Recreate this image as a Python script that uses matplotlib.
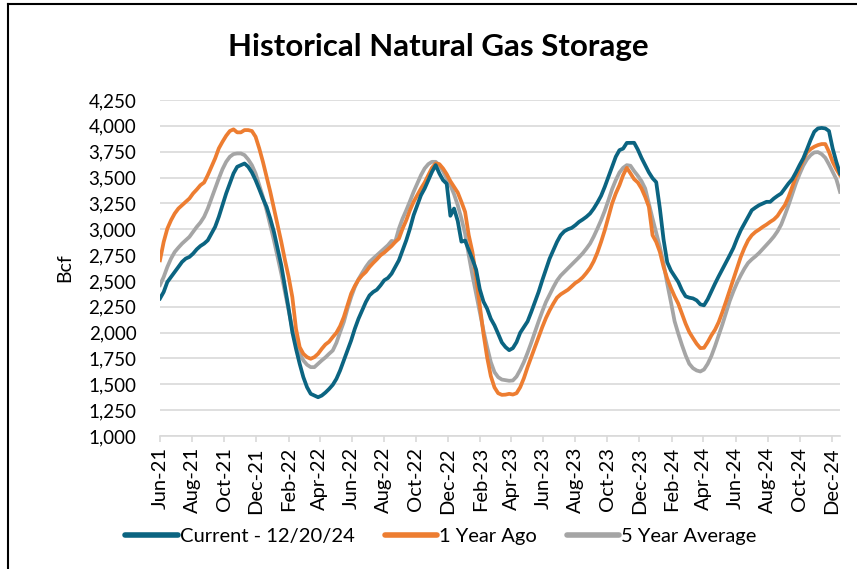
import matplotlib
matplotlib.use("Agg")
import matplotlib.pyplot as plt
import matplotlib.dates as mdates
from matplotlib.lines import Line2D
from matplotlib.ticker import FuncFormatter, MultipleLocator
import pandas as pd

# weekly storage reports (Fridays), 6/4/21 .. 12/20/24
weeks = pd.date_range("2021-06-04", "2024-12-20", freq="7D")

current = [
    2330, 2393, 2490, 2538, 2587, 2635, 2684, 2716, 2732, 2764, 2806, 2838, 2861, 2893, 2958, 3023,
    3120, 3233, 3346, 3443, 3540, 3604, 3620, 3636, 3604, 3549, 3475, 3388, 3297, 3217, 3103, 2974,
    2812, 2651, 2441, 2231, 2005, 1843, 1698, 1569, 1472, 1408, 1391, 1375, 1391, 1420, 1455, 1495,
    1553, 1634, 1731, 1828, 1924, 2037, 2134, 2215, 2296, 2360, 2393, 2415, 2457, 2506, 2528, 2570,
    2635, 2700, 2797, 2893, 3006, 3136, 3233, 3329, 3394, 3475, 3555, 3620, 3540, 3475, 3440, 3130,
    3200, 3080, 2880, 2890, 2800, 2710, 2610, 2420, 2300, 2231, 2134, 2070, 1989, 1905, 1860, 1830,
    1850, 1908, 1999, 2053, 2108, 2199, 2296, 2393, 2506, 2612, 2716, 2797, 2877, 2942, 2980, 3000,
    3013, 3039, 3071, 3094, 3120, 3152, 3200, 3258, 3323, 3410, 3507, 3604, 3701, 3765, 3780, 3835,
    3836, 3836, 3770, 3690, 3620, 3550, 3494, 3455, 3200, 2900, 2680, 2600, 2545, 2490, 2410, 2351,
    2338, 2331, 2312, 2273, 2264, 2322, 2399, 2474, 2545, 2612, 2677, 2748, 2819, 2909, 2990, 3055,
    3120, 3184, 3210, 3233, 3249, 3265, 3265, 3297, 3323, 3346, 3394, 3443, 3484, 3549, 3620, 3685,
    3772, 3863, 3943, 3975, 3980, 3975, 3950, 3782, 3652, 3540,
]

year_ago = [
    2700, 2877, 3006, 3087, 3152, 3200, 3233, 3265, 3297, 3346, 3384, 3426, 3452, 3523, 3604, 3685,
    3782, 3846, 3904, 3950, 3966, 3937, 3937, 3959, 3959, 3950, 3895, 3782, 3652, 3507, 3362, 3200,
    3039, 2877, 2700, 2538, 2344, 2037, 1860, 1795, 1763, 1747, 1763, 1795, 1843, 1885, 1912, 1957,
    1999, 2063, 2150, 2263, 2377, 2451, 2512, 2554, 2587, 2635, 2674, 2709, 2748, 2774, 2806, 2838,
    2877, 2909, 3006, 3087, 3184, 3265, 3329, 3394, 3452, 3523, 3594, 3636, 3630, 3588, 3533, 3465,
    3410, 3355, 3265, 3168, 2942, 2780, 2538, 2263, 1990, 1760, 1580, 1470, 1414, 1398, 1400, 1408,
    1401, 1414, 1472, 1559, 1666, 1763, 1860, 1957, 2053, 2141, 2215, 2280, 2338, 2370, 2393, 2415,
    2448, 2480, 2503, 2535, 2577, 2625, 2690, 2774, 2877, 2990, 3120, 3249, 3346, 3426, 3523, 3594,
    3540, 3484, 3452, 3394, 3313, 3217, 2942, 2877, 2780, 2635, 2522, 2432, 2351, 2280, 2183, 2086,
    2005, 1947, 1892, 1850, 1853, 1908, 1973, 2028, 2102, 2199, 2302, 2409, 2516, 2625, 2732, 2819,
    2893, 2942, 2974, 2997, 3023, 3045, 3071, 3094, 3129, 3184, 3233, 3313, 3410, 3507, 3588, 3669,
    3743, 3775, 3798, 3814, 3824, 3824, 3749, 3652, 3581, 3523,
]

five_year_avg = [
    2460, 2538, 2635, 2716, 2780, 2822, 2861, 2893, 2926, 2974, 3023, 3065, 3120, 3200, 3297, 3394,
    3491, 3581, 3652, 3701, 3727, 3733, 3733, 3717, 3675, 3620, 3540, 3426, 3313, 3184, 3039, 2893,
    2732, 2570, 2393, 2215, 2037, 1892, 1795, 1731, 1689, 1666, 1666, 1698, 1731, 1760, 1795, 1827,
    1902, 2005, 2102, 2231, 2344, 2441, 2516, 2577, 2635, 2684, 2716, 2748, 2780, 2812, 2845, 2887,
    2880, 3006, 3103, 3184, 3271, 3362, 3443, 3523, 3588, 3630, 3652, 3652, 3620, 3562, 3491, 3426,
    3339, 3233, 3103, 2958, 2748, 2554, 2377, 2199, 2021, 1860, 1715, 1618, 1569, 1546, 1540, 1534,
    1537, 1575, 1640, 1715, 1805, 1902, 2005, 2108, 2205, 2296, 2367, 2438, 2503, 2551, 2587, 2622,
    2658, 2693, 2729, 2767, 2812, 2861, 2929, 3006, 3087, 3178, 3281, 3388, 3475, 3549, 3594, 3620,
    3614, 3562, 3517, 3465, 3394, 3249, 3103, 2968, 2829, 2667, 2474, 2296, 2110, 1990, 1880, 1780,
    1698, 1656, 1634, 1624, 1643, 1698, 1773, 1869, 1973, 2079, 2193, 2306, 2399, 2483, 2554, 2619,
    2674, 2709, 2738, 2771, 2809, 2848, 2887, 2929, 2980, 3045, 3136, 3233, 3339, 3443, 3533, 3614,
    3675, 3717, 3743, 3746, 3727, 3691, 3627, 3556, 3484, 3362,
]

series_labels = ["Current - 12/20/24", "1 Year Ago", "5 Year Average"]
colors = ["#0b6481", "#ed7d31", "#a5a5a5"]

plt.rcParams["font.family"] = ["Lato", "DejaVu Sans"]

fig = plt.figure(figsize=(8.57, 5.69), dpi=100)
ax = fig.add_axes([160 / 857, 1 - 436 / 569, 680 / 857, 336 / 569])

# draw back to front: gray, orange, teal
for vals, col, lab in [(five_year_avg, colors[2], series_labels[2]),
                       (year_ago, colors[1], series_labels[1]),
                       (current, colors[0], series_labels[0])]:
    ax.plot(weeks, vals, color=col, lw=2.7, label=lab, solid_joinstyle="round")

ax.set_xlim(weeks[0], weeks[-1])
ax.set_ylim(1000, 4250)
ax.yaxis.set_major_locator(MultipleLocator(250))
ax.yaxis.set_major_formatter(FuncFormatter(lambda v, p: f"{int(v):,}"))
ax.xaxis.set_major_locator(mdates.MonthLocator(bymonth=[2, 4, 6, 8, 10, 12], bymonthday=4))
ax.xaxis.set_major_formatter(mdates.DateFormatter("%b-%y"))

ax.grid(axis="y", color="#d9d9d9", lw=1.2)
ax.set_axisbelow(True)
for s in ["top", "right", "left"]:
    ax.spines[s].set_visible(False)
ax.spines["bottom"].set_color("#d9d9d9")
ax.spines["bottom"].set_linewidth(1.2)

ax.tick_params(axis="y", length=0, pad=17, labelsize=13.5, labelcolor="black")
ax.tick_params(axis="x", length=4, width=1.2, color="#d9d9d9", pad=4, labelsize=14.5,
               labelrotation=90)

ax.set_ylabel("Bcf", fontsize=14)
ax.yaxis.set_label_coords(-0.128, 0.5)

fig.text(438 / 857, 1 - 56 / 569, "Historical Natural Gas Storage", ha="center",
         va="baseline", fontsize=22.5, fontweight="bold")

handles = [Line2D([0], [0], color=c, lw=4, solid_capstyle="round") for c in colors]
fig.legend(handles, series_labels, loc="center", bbox_to_anchor=(441 / 857, 1 - 536 / 569),
           ncol=3, frameon=False, fontsize=14.5, handlelength=2.6, handletextpad=0.1,
           columnspacing=1.5)

# chart border (left and top edges visible in the crop)
fig.add_artist(Line2D([8 / 857, 8 / 857], [0, 1 - 4 / 569], color="black", lw=1.5))
fig.add_artist(Line2D([8 / 857, 1], [1 - 4 / 569, 1 - 4 / 569], color="black", lw=1.5))

fig.savefig("out.png", dpi=100)
